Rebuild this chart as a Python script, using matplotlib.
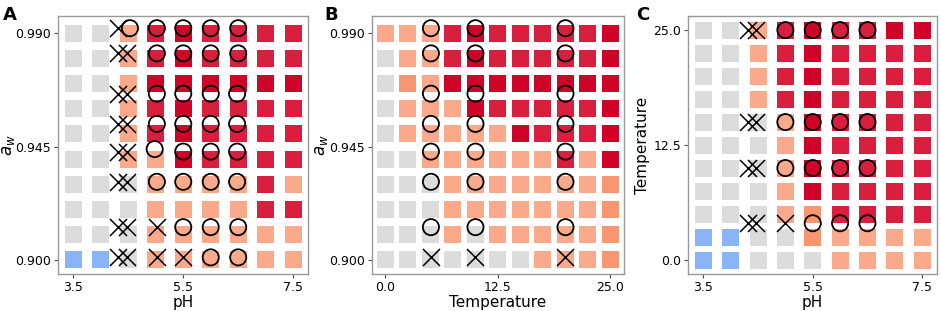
import matplotlib
matplotlib.use('Agg')
import matplotlib.pyplot as plt

# grid levels of the model predictions
ph_levels = [3.5, 4.0, 4.5, 5.0, 5.5, 6.0, 6.5, 7.0, 7.5]
aw_levels = [0.99, 0.98, 0.97, 0.96, 0.95, 0.94, 0.93, 0.92, 0.91, 0.90]
temp_levels = [0.0, 2.5, 5.0, 7.5, 10.0, 12.5, 15.0, 17.5, 20.0, 22.5, 25.0]
temp_rows = [25.0, 22.5, 20.0, 17.5, 15.0, 12.5, 10.0, 7.5, 5.0, 2.5, 0.0]

# predicted class per cell, rows from top to bottom
# g: no growth, b: blue, s: salmon, o: dark salmon, r: red, d: dark red
grid_a = ['ggsrdrrrr',
          'ggsrdrrrr',
          'ggsdddddd',
          'ggsrdrrrr',
          'ggsrdrrrr',
          'ggssdrrrr',
          'gggssssrs',
          'gggssssrr',
          'gggssssss',
          'bbgssssss']
grid_b = ['sssrdrrrrrd',
          'gssrdrrrrrd',
          'gosdddddddd',
          'gsssdrrrrrd',
          'gsssssdrrrd',
          'ggssssssrsd',
          'gggssssssso',
          'gggssssssso',
          'gggsgssssso',
          'gggggggssso']
grid_c = ['ggsrdrrdd',
          'ggsrdrrrr',
          'ggsrdrrrr',
          'ggsrdrrrr',
          'gggsdrrrr',
          'gggsdrrrr',
          'gggsdrrrr',
          'gggsdrrrr',
          'gggsorrrr',
          'bbggossss',
          'bbgggssss']

cell_colors = {'g': '#dcdcdc', 'b': '#8ab4f8', 's': '#fba98b',
               'o': '#f8966f', 'r': '#d81f3d', 'd': '#cf0328'}

# observed growth (circles) and no growth (crosses)
a_circle_ph = [4.53, 5.02, 5.5, 6.0, 6.5,
               5.02, 5.5, 6.0, 6.5,
               5.02, 5.5, 6.0, 6.48,
               5.02, 5.5, 6.0, 6.48,
               4.98, 5.5, 6.0, 6.48,
               5.02, 5.5, 6.0, 6.48,
               5.5, 6.0, 6.5,
               6.0, 6.5]
a_circle_aw = [0.992] * 5 + [0.982] * 4 + [0.966] * 4 + [0.954] * 4 + \
              [0.944, 0.943, 0.943, 0.943] + [0.931] * 4 + [0.913] * 3 + [0.901] * 2
a_cross_ph = [4.31] + [4.31, 4.48] * 7 + [5.02, 5.02, 5.5]
a_cross_aw = [0.992, 0.982, 0.982, 0.966, 0.966, 0.954, 0.954, 0.943, 0.943,
              0.931, 0.931, 0.913, 0.913, 0.901, 0.901, 0.913, 0.901, 0.901]

b_circle_t = [5.1, 10.05, 20.05] * 7
b_circle_aw = [0.992] * 3 + [0.982] * 3 + [0.966] * 3 + [0.954] * 3 + \
              [0.943] * 3 + [0.931] * 3 + [0.913] * 3
b_cross_t = [5.1, 10.05, 20.05]
b_cross_aw = [0.901, 0.901, 0.901]

c_circle_ph = [5.0, 5.5, 6.0, 6.5] * 3 + [5.5, 6.0, 6.5]
c_circle_t = [25.0] * 4 + [15.0] * 4 + [10.0] * 4 + [4.0] * 3
c_cross_ph = [4.32, 4.47] * 4 + [5.0]
c_cross_t = [25.0, 25.0, 15.0, 15.0, 10.0, 10.0, 4.0, 4.0, 4.0]


def draw_panel(ax, xlev, ylev, grid, cx, cy, xx, xy):
    xs, ys, cols = [], [], []
    for i, row in enumerate(grid):
        for j, code in enumerate(row):
            xs.append(xlev[j])
            ys.append(ylev[i])
            cols.append(cell_colors[code])
    ax.scatter(xs, ys, c=cols, marker='s', s=150, linewidths=0, zorder=1)
    ax.scatter(cx, cy, marker='o', s=135, facecolors='none',
               edgecolors='black', linewidths=1.3, zorder=3)
    ax.scatter(xx, xy, marker='x', s=150, c='black', linewidths=1.1, zorder=3)
    for sp in ax.spines.values():
        sp.set_color('0.6')
        sp.set_linewidth(1.0)
    ax.tick_params(labelsize=9, length=3, width=0.8, color='0.3', pad=2)


fig = plt.figure(figsize=(9.41, 3.11), dpi=100)
bottom, height = 0.119, 0.83
ax1 = fig.add_axes([0.0616, bottom, 0.2657, height])
ax2 = fig.add_axes([0.3953, bottom, 0.2678, height])
ax3 = fig.add_axes([0.7311, bottom, 0.2646, height])

draw_panel(ax1, ph_levels, aw_levels, grid_a, a_circle_ph, a_circle_aw, a_cross_ph, a_cross_aw)
draw_panel(ax2, temp_levels, aw_levels, grid_b, b_circle_t, b_circle_aw, b_cross_t, b_cross_aw)
draw_panel(ax3, ph_levels, temp_rows, grid_c, c_circle_ph, c_circle_t, c_cross_ph, c_cross_t)

for ax in (ax1, ax3):
    ax.set_xlim(3.22, 7.77)
    ax.set_xticks([3.5, 5.5, 7.5])
    ax.set_xticklabels(['3.5', '5.5', '7.5'])
    ax.set_xlabel('pH', fontsize=11, labelpad=1)
for ax in (ax1, ax2):
    ax.set_ylim(0.8944, 0.9969)
    ax.set_yticks([0.900, 0.945, 0.990])
    ax.set_yticklabels(['0.900', '0.945', '0.990'])
    ax.set_ylabel('$a_w$', fontsize=12)
    ax.yaxis.set_label_coords(-0.165, 0.5)

ax2.set_xlim(-1.45, 26.55)
ax2.set_xticks([0.0, 12.5, 25.0])
ax2.set_xticklabels(['0.0', '12.5', '25.0'])
ax2.set_xlabel('Temperature', fontsize=11, labelpad=1)

ax3.set_ylim(-1.52, 26.55)
ax3.set_yticks([0.0, 12.5, 25.0])
ax3.set_yticklabels(['0.0', '12.5', '25.0'])
ax3.set_ylabel('Temperature', fontsize=11, labelpad=2)

fig.text(0.003, 0.98, 'A', fontsize=13, fontweight='bold', va='top')
fig.text(0.345, 0.98, 'B', fontsize=13, fontweight='bold', va='top')
fig.text(0.676, 0.98, 'C', fontsize=13, fontweight='bold', va='top')

fig.savefig('out.png', dpi=100)
